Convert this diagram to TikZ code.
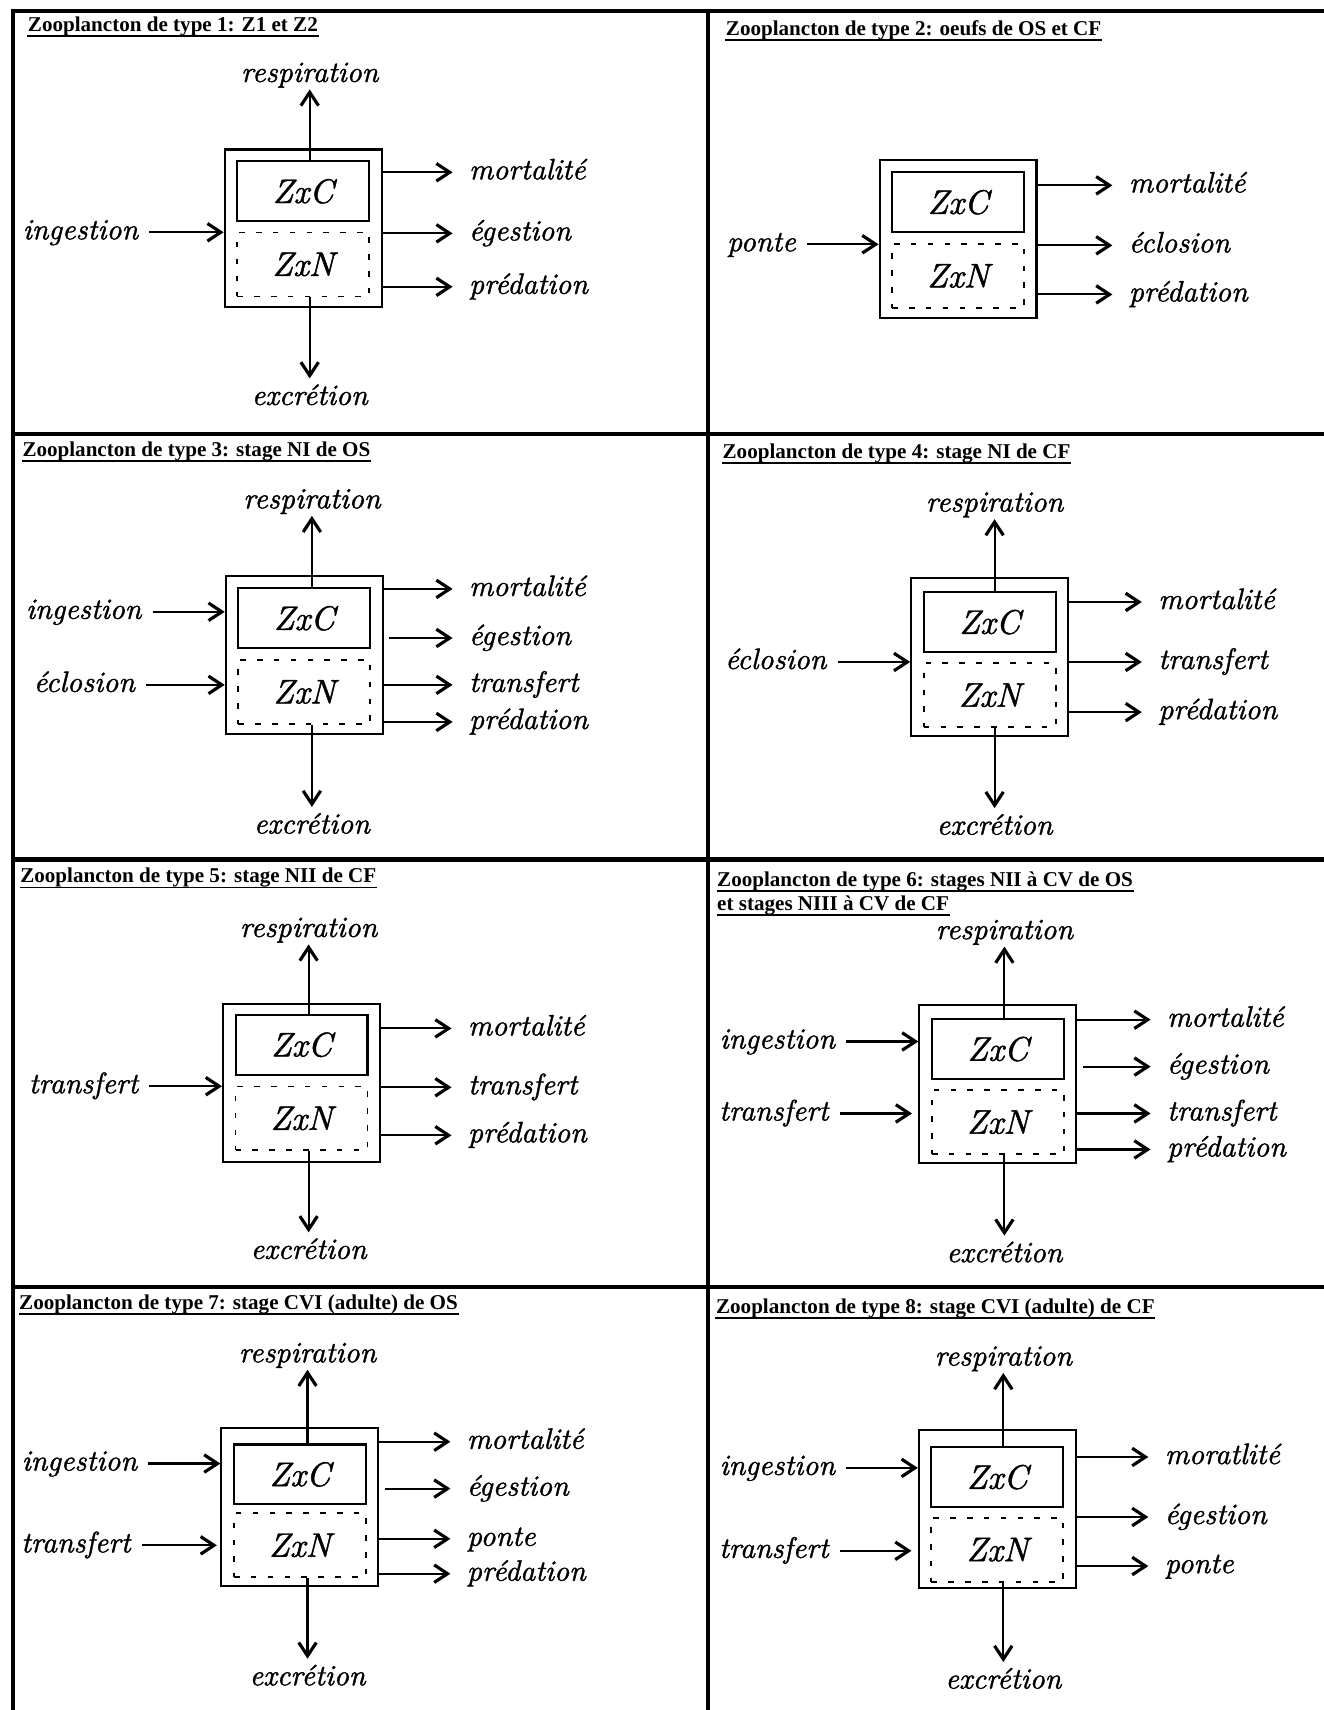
\documentclass[tikz,border=0pt]{standalone}
\usepackage{fontspec}
\usepackage{tikz}
\usetikzlibrary{arrows.meta}
\newfontfamily\titlefont{Liberation Serif}
\newfontfamily\labfont{lmroman10-italic.otf}[FakeBold=1.2]

\begin{document}
\begin{tikzpicture}[
    x=0.010906cm, y=-0.010906cm,
    >={Straight Barb[length=3.8pt, width=5pt, line width=0.9pt]},
    frame/.style={line width=1.3pt},
    ptitle/.style={anchor=base west, inner sep=0pt, font=\titlefont\bfseries\fontsize{6.0}{7.5}\selectfont},
    uline/.style={line width=0.5pt},
    outerbox/.style={draw, line width=0.6pt, minimum width=1.57cm, minimum height=1.58cm, inner sep=0pt},
    cbox/.style={draw, line width=0.6pt, minimum width=1.32cm, minimum height=0.60cm, inner sep=0pt, font=\labfont\fontsize{9.7}{12}\selectfont},
    nbox/.style={draw, dash pattern=on 1.6pt off 3.2pt, line width=0.5pt, minimum width=1.32cm, minimum height=0.64cm, inner sep=0pt, font=\labfont\fontsize{9.7}{12}\selectfont},
    lab/.style={inner sep=1.5pt, font=\labfont\fontsize{8.4}{10}\selectfont},
    toplab/.style={lab, anchor=south, inner ysep=0.3pt},
    botlab/.style={lab, anchor=north},
    outlab/.style={lab, anchor=west, inner xsep=4.5pt, text height=4pt, text depth=0pt},
    inlab/.style={lab, anchor=east, inner xsep=3pt, text height=4pt, text depth=0pt},
    flow/.style={->, line width=0.6pt}
]
\useasboundingbox (0,0) rectangle (1214,1568);

% Grid of panels
\draw[frame] (12,1568) -- (12,10) -- (1214,10);
\draw[frame] (649,10) -- (649,1568);
\draw[frame] (12,398) -- (1214,398);
\draw[frame] (12,788) -- (1214,788);
\draw[frame] (12,1180) -- (1214,1180);

% 1. TYPE 1 (Z1 et Z2)
\node[ptitle] (title1) at (25,28.5) {Zooplancton de type 1: Z1 et Z2};
\draw[uline] ([yshift=-1.3pt]title1.base west) -- ([yshift=-1.3pt]title1.base east);
\node[outerbox] (b1) at (278,209.5) {};
\node[cbox] (c1) at (278,175.5) {ZxC};
\node[nbox] (n1) at (278,242.5) {ZxN};
\node[toplab] (resp1) at (284,82) {respiration};
\node[botlab] (excr1) at (284,347) {excrétion};
\node[inlab] (ing1) at (137,213) {ingestion};
\node[outlab] (mort1) at (415,158) {mortalité};
\node[outlab] (eges1) at (415,214) {égestion};
\node[outlab] (pred1) at (415,263) {prédation};
\draw[flow] (c1.north -| resp1.south) -- (resp1.south);
\draw[flow] (n1.south -| excr1.north) -- (excr1.north);
\draw[flow] (ing1.east) -- (b1.west |- ing1.east);
\draw[flow] (b1.east |- mort1.west) -- (mort1.west);
\draw[flow] (b1.east |- eges1.west) -- (eges1.west);
\draw[flow] (b1.east |- pred1.west) -- (pred1.west);

% 2. TYPE 2 (oeufs)
\node[ptitle] (title2) at (665,32.5) {Zooplancton de type 2: oeufs de OS et CF};
\draw[uline] ([yshift=-1.3pt]title2.base west) -- ([yshift=-1.3pt]title2.base east);
\node[outerbox] (b2) at (878.5,219.5) {};
\node[cbox] (c2) at (878.5,185.5) {ZxC};
\node[nbox] (n2) at (878.5,253) {ZxN};
\node[inlab] (pont2) at (740,224) {ponte};
\node[outlab] (mort2) at (1020,170) {mortalité};
\node[outlab] (eclo2) at (1020,225) {éclosion};
\node[outlab] (pred2) at (1020,270) {prédation};
\draw[flow] (pont2.east) -- (b2.west |- pont2.east);
\draw[flow] (b2.east |- mort2.west) -- (mort2.west);
\draw[flow] (b2.east |- eclo2.west) -- (eclo2.west);
\draw[flow] (b2.east |- pred2.west) -- (pred2.west);

% 3. TYPE 3 (NI de OS)
\node[ptitle] (title3) at (20,418.5) {Zooplancton de type 3: stage NI de OS};
\draw[uline] ([yshift=-1.3pt]title3.base west) -- ([yshift=-1.3pt]title3.base east);
\node[outerbox] (b3) at (279,600.5) {};
\node[cbox] (c3) at (279,567) {ZxC};
\node[nbox] (n3) at (279,634.5) {ZxN};
\node[toplab] (resp3) at (286,473) {respiration};
\node[botlab] (excr3) at (286,740) {excrétion};
\node[inlab] (ing3) at (140,561) {ingestion};
\node[inlab] (eclo3) at (134,628) {éclosion};
\node[outlab] (mort3) at (415,540) {mortalité};
\node[outlab] (eges3) at (415,585) {égestion};
\node[outlab] (tran3) at (415,628) {transfert};
\node[outlab] (pred3) at (415,662) {prédation};
\draw[flow] (c3.north -| resp3.south) -- (resp3.south);
\draw[flow] (n3.south -| excr3.north) -- (excr3.north);
\draw[flow] (ing3.east) -- (b3.west |- ing3.east);
\draw[flow] (eclo3.east) -- (b3.west |- eclo3.east);
\draw[flow] (b3.east |- mort3.west) -- (mort3.west);
\draw[flow, shorten <=1.6pt] (b3.east |- eges3.west) -- (eges3.west);
\draw[flow] (b3.east |- tran3.west) -- (tran3.west);
\draw[flow] (b3.east |- pred3.west) -- (pred3.west);

% 4. TYPE 4 (NI de CF)
\node[ptitle] (title4) at (662,420.5) {Zooplancton de type 4: stage NI de CF};
\draw[uline] ([yshift=-1.3pt]title4.base west) -- ([yshift=-1.3pt]title4.base east);
\node[outerbox] (b4) at (907.5,602.5) {};
\node[cbox] (c4) at (907.5,570.5) {ZxC};
\node[nbox] (n4) at (907.5,637.5) {ZxN};
\node[toplab] (resp4) at (912,476) {respiration};
\node[botlab] (excr4) at (912,741) {excrétion};
\node[inlab] (eclo4) at (768,607) {éclosion};
\node[outlab] (mort4) at (1047,552) {mortalité};
\node[outlab] (tran4) at (1047,607) {transfert};
\node[outlab] (pred4) at (1047,653) {prédation};
\draw[flow] (c4.north -| resp4.south) -- (resp4.south);
\draw[flow] (n4.south -| excr4.north) -- (excr4.north);
\draw[flow] (eclo4.east) -- (b4.west |- eclo4.east);
\draw[flow] (b4.east |- mort4.west) -- (mort4.west);
\draw[flow] (b4.east |- tran4.west) -- (tran4.west);
\draw[flow] (b4.east |- pred4.west) -- (pred4.west);

% 5. TYPE 5 (NII de CF)
\node[ptitle] (title5) at (18,809.5) {Zooplancton de type 5: stage NII de CF};
\draw[uline] ([yshift=-1.3pt]title5.base west) -- ([yshift=-1.3pt]title5.base east);
\node[outerbox] (b5) at (276.5,993) {};
\node[cbox] (c5) at (276.5,958) {ZxC};
\node[nbox] (n5) at (276.5,1025.5) {ZxN};
\node[toplab] (resp5) at (283,866) {respiration};
\node[botlab] (excr5) at (283,1130) {excrétion};
\node[inlab] (tran5in) at (137,996) {transfert};
\node[outlab] (mort5) at (414,943) {mortalité};
\node[outlab] (tran5) at (414,997) {transfert};
\node[outlab] (pred5) at (414,1041) {prédation};
\draw[flow] (c5.north -| resp5.south) -- (resp5.south);
\draw[flow] (n5.south -| excr5.north) -- (excr5.north);
\draw[flow] (tran5in.east) -- (b5.west |- tran5in.east);
\draw[flow] (b5.east |- mort5.west) -- (mort5.west);
\draw[flow] (b5.east |- tran5.west) -- (tran5.west);
\draw[flow] (b5.east |- pred5.west) -- (pred5.west);

% 6. TYPE 6 (NII a CV)
\node[ptitle] (title6) at (657,812.5) {Zooplancton de type 6: stages NII à CV de OS};
\node[ptitle] (title6b) at (657,834.5) {et stages NIII à CV de CF};
\draw[uline] ([yshift=-1.3pt]title6.base west) -- ([yshift=-1.3pt]title6.base east);
\draw[uline] ([yshift=-1.3pt]title6b.base west) -- ([yshift=-1.3pt]title6b.base east);
\node[outerbox] (b6) at (915,994) {};
\node[cbox] (c6) at (915,962) {ZxC};
\node[nbox] (n6) at (915,1029) {ZxN};
\node[toplab] (resp6) at (921,868) {respiration};
\node[botlab] (excr6) at (921,1133) {excrétion};
\node[inlab] (ing6) at (776,955) {ingestion};
\node[inlab] (tran6in) at (770,1021) {transfert};
\node[outlab] (mort6) at (1055,935) {mortalité};
\node[outlab] (eges6) at (1055,978) {égestion};
\node[outlab] (tran6) at (1055,1021) {transfert};
\node[outlab] (pred6) at (1055,1054) {prédation};
\draw[flow] (c6.north -| resp6.south) -- (resp6.south);
\draw[flow] (n6.south -| excr6.north) -- (excr6.north);
\draw[flow] (ing6.east) -- (b6.west |- ing6.east);
\draw[flow, shorten >=1.8pt] (tran6in.east) -- (b6.west |- tran6in.east);
\draw[flow] (b6.east |- mort6.west) -- (mort6.west);
\draw[flow, shorten <=1.6pt] (b6.east |- eges6.west) -- (eges6.west);
\draw[flow] (b6.east |- tran6.west) -- (tran6.west);
\draw[flow] (b6.east |- pred6.west) -- (pred6.west);

% 7. TYPE 7 (CVI de OS)
\node[ptitle] (title7) at (17,1200.5) {Zooplancton de type 7: stage CVI (adulte) de OS};
\draw[uline] ([yshift=-1.3pt]title7.base west) -- ([yshift=-1.3pt]title7.base east);
\node[outerbox] (b7) at (275,1382) {};
\node[cbox] (c7) at (275,1352) {ZxC};
\node[nbox] (n7) at (275,1417) {ZxN};
\node[toplab] (resp7) at (282,1256) {respiration};
\node[botlab] (excr7) at (282,1521) {excrétion};
\node[inlab] (ing7) at (136,1342) {ingestion};
\node[inlab] (tran7in) at (130,1417) {transfert};
\node[outlab] (mort7) at (413,1322) {mortalité};
\node[outlab] (eges7) at (413,1365) {égestion};
\node[outlab] (pont7) at (413,1411) {ponte};
\node[outlab] (pred7) at (413,1443) {prédation};
\draw[flow] (c7.north -| resp7.south) -- (resp7.south);
\draw[flow] (n7.south -| excr7.north) -- (excr7.north);
\draw[flow] (ing7.east) -- (b7.west |- ing7.east);
\draw[flow, shorten >=1pt] (tran7in.east) -- (b7.west |- tran7in.east);
\draw[flow] (b7.east |- mort7.west) -- (mort7.west);
\draw[flow, shorten <=1.6pt] (b7.east |- eges7.west) -- (eges7.west);
\draw[flow] (b7.east |- pont7.west) -- (pont7.west);
\draw[flow] (b7.east |- pred7.west) -- (pred7.west);

% 8. TYPE 8 (CVI de CF)
\node[ptitle] (title8) at (656,1204.5) {Zooplancton de type 8: stage CVI (adulte) de CF};
\draw[uline] ([yshift=-1.3pt]title8.base west) -- ([yshift=-1.3pt]title8.base east);
\node[outerbox] (b8) at (914.5,1384) {};
\node[cbox] (c8) at (914.5,1354.5) {ZxC};
\node[nbox] (n8) at (914.5,1421) {ZxN};
\node[toplab] (resp8) at (920,1259) {respiration};
\node[botlab] (excr8) at (920,1524) {excrétion};
\node[inlab] (ing8) at (776,1346) {ingestion};
\node[inlab] (tran8in) at (770,1422) {transfert};
\node[outlab] (mort8) at (1053,1336) {moratlité};
\node[outlab] (eges8) at (1053,1391) {égestion};
\node[outlab] (pont8) at (1053,1436) {ponte};
\draw[flow] (c8.north -| resp8.south) -- (resp8.south);
\draw[flow] (n8.south -| excr8.north) -- (excr8.north);
\draw[flow] (ing8.east) -- (b8.west |- ing8.east);
\draw[flow, shorten >=1.8pt] (tran8in.east) -- (b8.west |- tran8in.east);
\draw[flow] (b8.east |- mort8.west) -- (mort8.west);
\draw[flow] (b8.east |- eges8.west) -- (eges8.west);
\draw[flow] (b8.east |- pont8.west) -- (pont8.west);

\end{tikzpicture}
\end{document}
